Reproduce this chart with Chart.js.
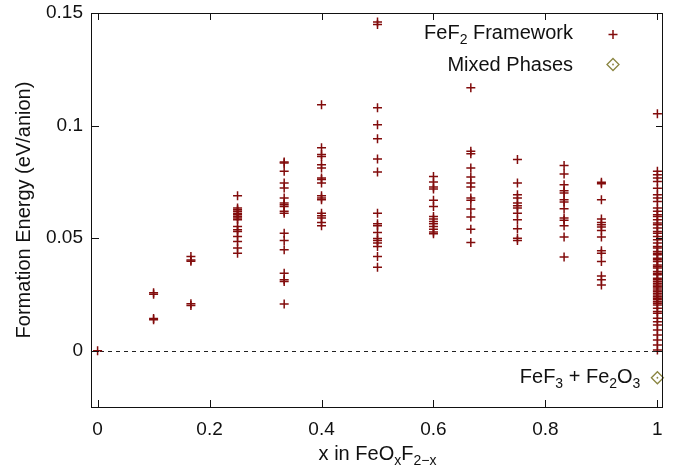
<!DOCTYPE html>
<html>
<head>
<meta charset="utf-8">
<script src="https://cdn.jsdelivr.net/npm/chart.js@4.4.1/dist/chart.umd.min.js"></script>
<style>
  html, body { margin: 0; padding: 0; background: #fff; }
  #wrap { width: 679px; height: 472px; }
</style>
</head>
<body>
<div id="wrap"><canvas id="myChart" width="679" height="472"></canvas></div>
<script>
'use strict';
// data
const xCols = [0, 0.1, 0.1667, 0.25, 0.3333, 0.4, 0.5, 0.6, 0.6667, 0.75, 0.8333, 0.9, 1];

const energyAt000 = [0];
const energyAt010 = [0.0257, 0.0251, 0.0143, 0.0137];
const energyAt017 = [0.0418, 0.0403, 0.0397, 0.0209, 0.0201];
const energyAt025 = [0.0688, 0.0634, 0.0626, 0.0619, 0.0611, 0.0604, 0.0596, 0.0589, 0.0582, 0.0552, 0.0537, 0.0530, 0.0507, 0.0485, 0.0456, 0.0433];
const energyAt033 = [0.0838, 0.0834, 0.0797, 0.0745, 0.0723, 0.0678, 0.0656, 0.0648, 0.0641, 0.0619, 0.0611, 0.0522, 0.0490, 0.0448, 0.0344, 0.0315, 0.0307, 0.0208];
const energyAt040 = [0.1093, 0.0901, 0.0871, 0.0863, 0.0826, 0.0812, 0.0767, 0.0760, 0.0745, 0.0688, 0.0678, 0.0671, 0.0611, 0.0599, 0.0589, 0.0570, 0.0555];
const energyAt050 = [0.1460, 0.1449, 0.1079, 0.1004, 0.0941, 0.0852, 0.0794, 0.0611, 0.0564, 0.0555, 0.0525, 0.0498, 0.0490, 0.0478, 0.0463, 0.0418, 0.0371];
const energyAt060 = [0.0774, 0.0749, 0.0727, 0.0718, 0.0668, 0.0641, 0.0596, 0.0585, 0.0574, 0.0564, 0.0552, 0.0540, 0.0527, 0.0519];
const energyAt067 = [0.1168, 0.0886, 0.0875, 0.0812, 0.0772, 0.0745, 0.0727, 0.0678, 0.0668, 0.0629, 0.0594, 0.0540, 0.0481];
const energyAt075 = [0.0849, 0.0745, 0.0693, 0.0678, 0.0656, 0.0644, 0.0634, 0.0611, 0.0582, 0.0542, 0.0500, 0.0490];
const energyAt083 = [0.0823, 0.0785, 0.0737, 0.0711, 0.0700, 0.0671, 0.0660, 0.0631, 0.0589, 0.0579, 0.0555, 0.0505, 0.0416];
const energyAt090 = [0.0748, 0.0742, 0.0671, 0.0585, 0.0570, 0.0559, 0.0549, 0.0534, 0.0505, 0.0444, 0.0433, 0.0396, 0.0332, 0.0315, 0.0292];
const energyAt100 = [0.1052, 0.0797, 0.0782, 0.0767, 0.0752, 0.0722, 0.0693, 0.0678, 0.0663, 0.0634, 0.0619, 0.0604, 0.0596, 0.0582, 0.0567,
  0.0559, 0.0545, 0.0530, 0.0522, 0.0507, 0.0493, 0.0478, 0.0463, 0.0456, 0.0441, 0.0433, 0.0426, 0.0411, 0.0404, 0.0396, 0.0381,
  0.0374, 0.0367, 0.0352, 0.0344, 0.0337, 0.0322, 0.0315, 0.0307, 0.0300, 0.0292, 0.0285, 0.0278, 0.0270, 0.0263, 0.0255, 0.0248,
  0.0240, 0.0233, 0.0226, 0.0218, 0.0211, 0.0203, 0.0189, 0.0174, 0.0166, 0.0144, 0.0129, 0.0114, 0.0092, 0.0070, 0.0048, 0.0025, 0.0003];

const energyByCol = [energyAt000, energyAt010, energyAt017, energyAt025, energyAt033, energyAt040, energyAt050,
  energyAt060, energyAt067, energyAt075, energyAt083, energyAt090, energyAt100];

const mixedX = [1];
const mixedY = [-0.012];

const xTickVals = [0, 0.2, 0.4, 0.6, 0.8, 1];
const yTickVals = [0, 0.05, 0.1, 0.15];

// styles
const FONT = "'Liberation Sans', Arial, sans-serif";
const RED = '#820c0c';
const OLIVE = '#8a8540';
const INK = '#111';

// build point lists
const frameworkPoints = [];
for (let i = 0; i < xCols.length; i++) {
  energyByCol[i].forEach(v => frameworkPoints.push({ x: xCols[i], y: v }));
}
const mixedPoints = mixedX.map((x, i) => ({ x: x, y: mixedY[i] }));

// text with subscripts: parts = [[text, isSub], ...]
function drawRich(ctx, parts, x, y, align, size) {
  const widths = parts.map(p => {
    ctx.font = (p[1] ? size * 0.7 : size) + 'px ' + FONT;
    return ctx.measureText(p[0]).width;
  });
  const total = widths.reduce((a, b) => a + b, 0);
  let cx = align === 'right' ? x - total : align === 'center' ? x - total / 2 : x;
  ctx.textAlign = 'left';
  ctx.textBaseline = 'alphabetic';
  parts.forEach((p, i) => {
    ctx.font = (p[1] ? size * 0.7 : size) + 'px ' + FONT;
    ctx.fillText(p[0], cx, p[1] ? y + size * 0.25 : y);
    cx += widths[i];
  });
}

function drawCross(ctx, x, y, r) {
  ctx.beginPath();
  ctx.moveTo(x - r, y); ctx.lineTo(x + r, y);
  ctx.moveTo(x, y - r); ctx.lineTo(x, y + r);
  ctx.stroke();
}

function drawDiamond(ctx, x, y, r) {
  ctx.beginPath();
  ctx.moveTo(x, y - r); ctx.lineTo(x + r, y); ctx.lineTo(x, y + r); ctx.lineTo(x - r, y);
  ctx.closePath();
  ctx.stroke();
  ctx.beginPath();
  ctx.arc(x, y, 0.9, 0, Math.PI * 2);
  ctx.fill();
}

// gnuplot-ish frame, inward ticks, zero line, legend and labels
const framePlugin = {
  id: 'frame',
  beforeDatasetsDraw(chart) {
    const { ctx, chartArea: a, scales } = chart;
    const y0 = scales.y.getPixelForValue(0);
    ctx.save();
    ctx.strokeStyle = '#222';
    ctx.lineWidth = 1;
    ctx.setLineDash([4, 4]);
    ctx.beginPath();
    ctx.moveTo(a.left, Math.round(y0) + 0.5);
    ctx.lineTo(a.right, Math.round(y0) + 0.5);
    ctx.stroke();
    ctx.restore();
  },
  afterDraw(chart) {
    const { ctx, chartArea: a, scales } = chart;
    ctx.save();
    ctx.strokeStyle = INK;
    ctx.lineWidth = 1;
    ctx.strokeRect(Math.round(a.left) - 0.5, Math.round(a.top) + 0.5, Math.round(a.right - a.left), Math.round(a.bottom - a.top));
    const tl = 7;
    ctx.beginPath();
    xTickVals.forEach(v => {
      const px = Math.round(scales.x.getPixelForValue(v)) + 0.5;
      ctx.moveTo(px, a.bottom); ctx.lineTo(px, a.bottom - tl);
      ctx.moveTo(px, a.top); ctx.lineTo(px, a.top + tl);
    });
    yTickVals.forEach(v => {
      const py = Math.round(scales.y.getPixelForValue(v)) + 0.5;
      ctx.moveTo(a.left, py); ctx.lineTo(a.left + tl, py);
      ctx.moveTo(a.right, py); ctx.lineTo(a.right - tl, py);
    });
    ctx.stroke();

    // x axis title
    ctx.fillStyle = INK;
    drawRich(ctx, [['x in FeO', false], ['x', true], ['F', false], ['2\u2212x', true]],
      (a.left + a.right) / 2, 460, 'center', 20);

    // legend
    drawRich(ctx, [['FeF', false], ['2', true], [' Framework', false]], 573, 39, 'right', 20);
    drawRich(ctx, [['Mixed Phases', false]], 573, 71, 'right', 20);
    ctx.lineWidth = 1.5;
    ctx.strokeStyle = RED;
    drawCross(ctx, 613, 34.5, 4.5);
    ctx.lineWidth = 1.3;
    ctx.strokeStyle = OLIVE;
    ctx.fillStyle = OLIVE;
    drawDiamond(ctx, 613, 64.5, 6);

    // label next to the mixed phase point
    ctx.fillStyle = INK;
    const mx = scales.x.getPixelForValue(mixedX[0]);
    const my = scales.y.getPixelForValue(mixedY[0]);
    drawRich(ctx, [['FeF', false], ['3', true], [' + Fe', false], ['2', true], ['O', false], ['3', true]],
      mx - 17, my + 5.5, 'right', 20);
    ctx.restore();
  }
};

function tickLabel(v) {
  return String(+Number(v).toFixed(3));
}

const ctx = document.getElementById('myChart').getContext('2d');
new Chart(ctx, {
  type: 'scatter',
  data: {
    datasets: [
      {
        label: 'FeF2 Framework',
        data: frameworkPoints,
        pointStyle: 'cross',
        pointRadius: 4.5,
        pointBorderWidth: 1.5,
        borderColor: RED,
        backgroundColor: RED,
        clip: false,
      },
      {
        label: 'Mixed Phases',
        data: mixedPoints,
        pointStyle: 'rectRot',
        pointRadius: 6,
        pointBorderWidth: 1.3,
        borderColor: OLIVE,
        backgroundColor: 'rgba(0,0,0,0)',
        clip: false,
      },
      {
        label: 'mixed dot',
        data: mixedPoints,
        pointStyle: 'circle',
        pointRadius: 0.9,
        pointBorderWidth: 0,
        backgroundColor: OLIVE,
        clip: false,
      },
    ],
  },
  options: {
    responsive: false,
    animation: false,
    devicePixelRatio: 1,
    layout: { padding: { left: 0, top: 13, right: 16, bottom: 0 } },
    plugins: {
      legend: { display: false },
      tooltip: { enabled: false },
    },
    scales: {
      x: {
        type: 'linear',
        min: -0.01,
        max: 1.01,
        afterBuildTicks: s => { s.ticks = xTickVals.map(v => ({ value: v })); },
        afterFit: s => { s.height = 65; s.paddingLeft = 0; s.paddingRight = 0; },
        grid: { display: false, drawTicks: false },
        border: { display: false },
        ticks: {
          padding: 11,
          maxRotation: 0,
          autoSkip: false,
          color: INK,
          font: { family: FONT, size: 19 },
          callback: v => tickLabel(v),
        },
      },
      y: {
        type: 'linear',
        min: -0.025,
        max: 0.15,
        afterBuildTicks: s => { s.ticks = yTickVals.map(v => ({ value: v })); },
        afterFit: s => { s.width = 92; s.paddingTop = 0; s.paddingBottom = 0; },
        grid: { display: false, drawTicks: false },
        border: { display: false },
        ticks: {
          padding: 9,
          autoSkip: false,
          color: INK,
          font: { family: FONT, size: 19 },
          callback: v => tickLabel(v),
        },
        title: {
          display: true,
          text: 'Formation Energy (eV/anion)',
          color: INK,
          font: { family: FONT, size: 20 },
          padding: { top: 12, bottom: 0 },
        },
      },
    },
  },
  plugins: [framePlugin],
});
</script>
</body>
</html>
